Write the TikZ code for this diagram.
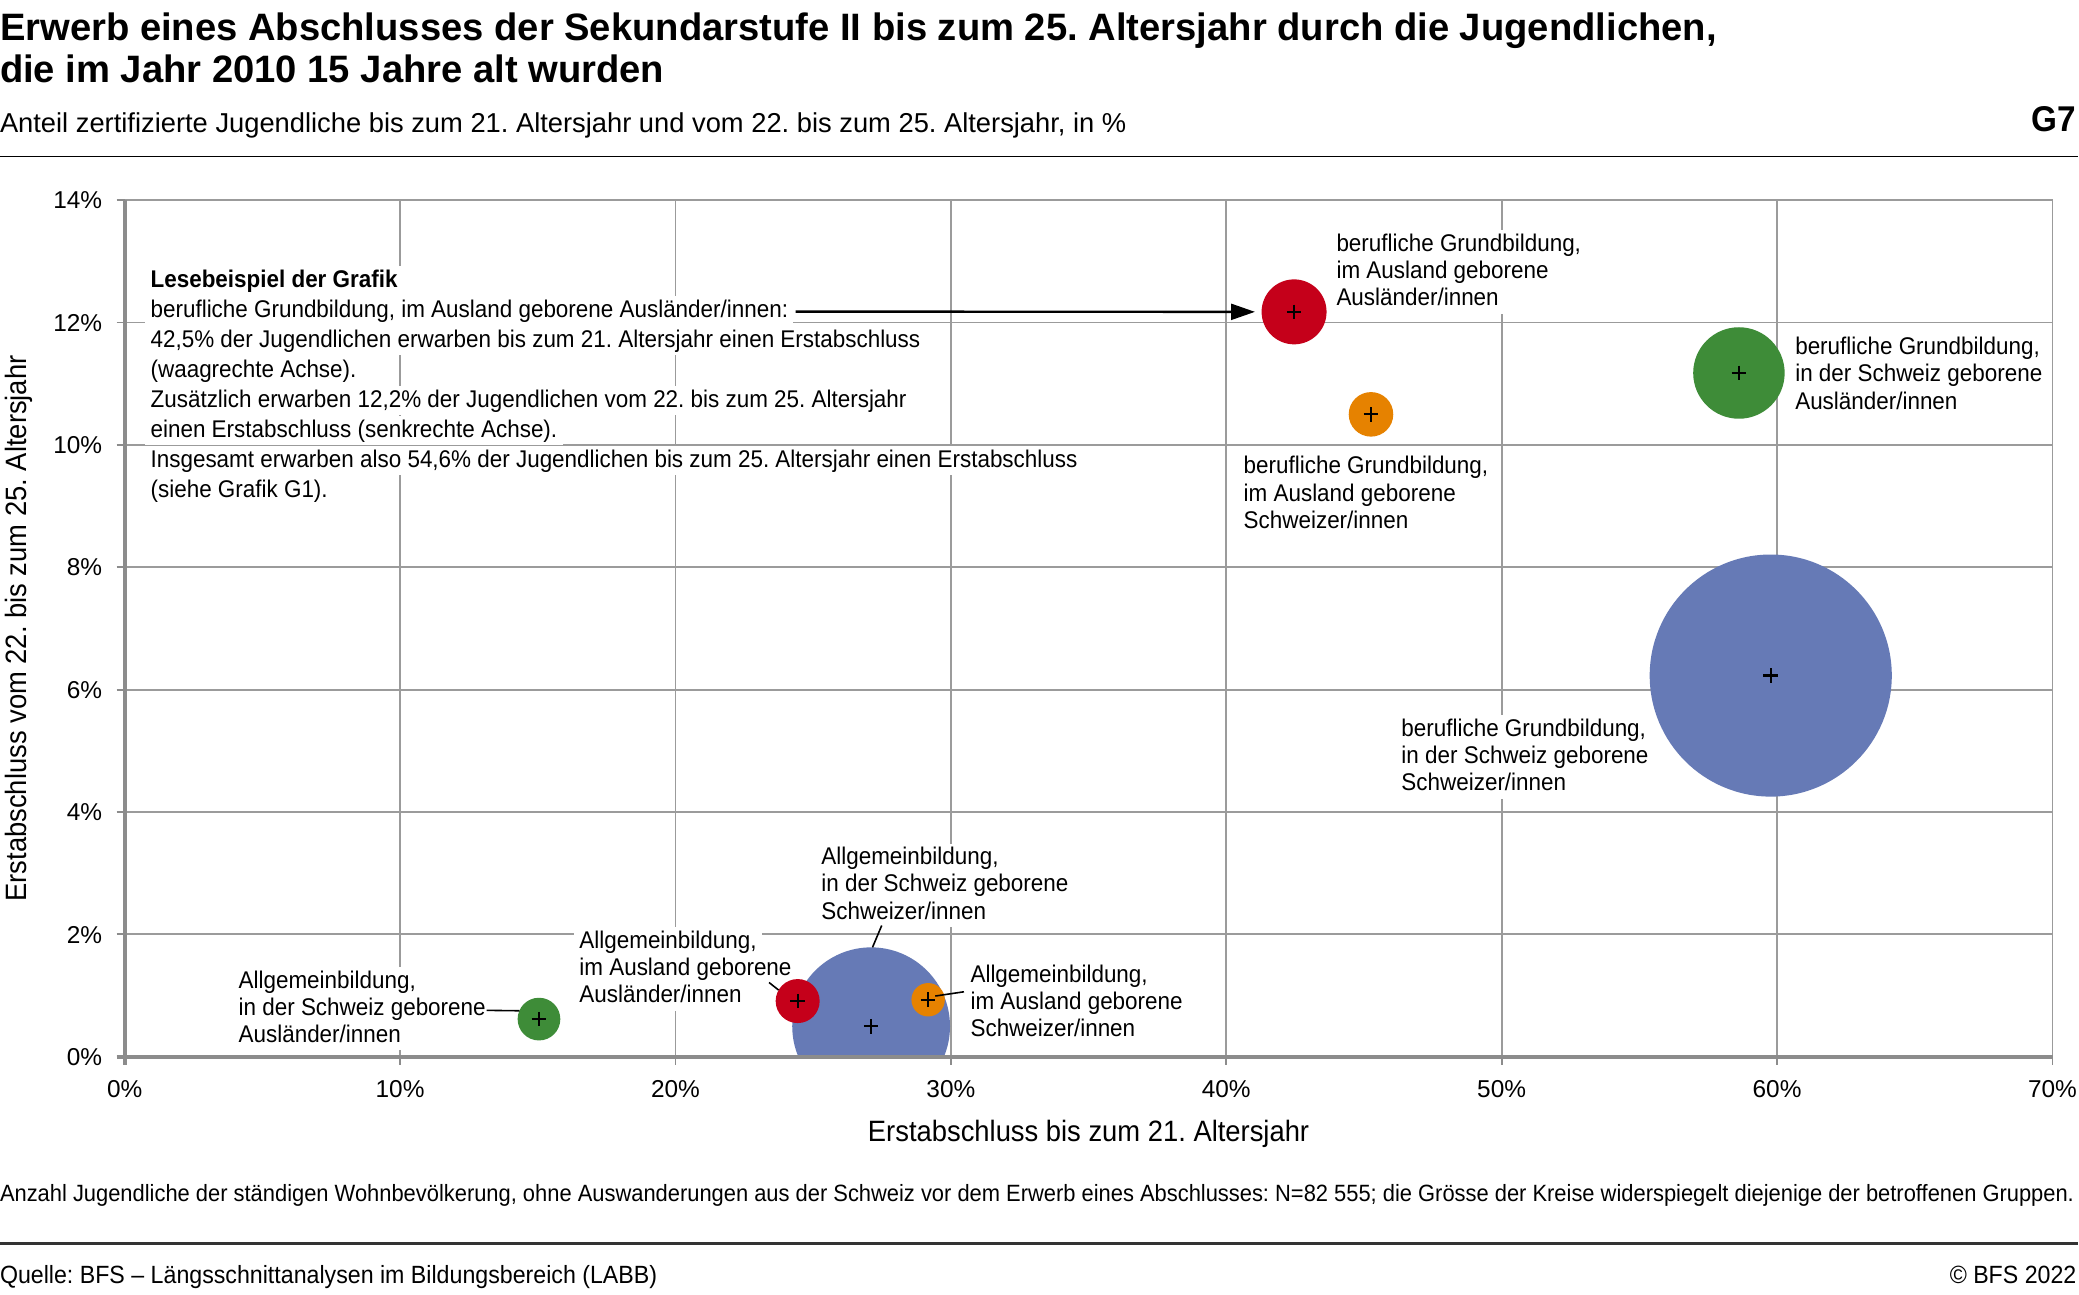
\documentclass[tikz,border=0pt]{standalone}
\usepackage{fontspec}
\setmainfont{Liberation Sans}[FakeStretch=0.93]
\newfontfamily\plainfont{Liberation Sans}
\usetikzlibrary{arrows.meta}

\definecolor{bfsred}{RGB}{197,0,26}
\definecolor{bfsorange}{RGB}{230,130,0}
\definecolor{bfsgreen}{RGB}{62,140,56}
\definecolor{bfsblue}{RGB}{102,122,182}
\definecolor{gridgray}{RGB}{155,155,155}
\definecolor{axisgray}{RGB}{140,140,140}

% white band behind one line of a label
\newcommand{\wl}[1]{\setbox0=\hbox{#1}\rlap{\kern-2pt\smash{\color{white}\rule[-3pt]{\dimexpr\wd0+4pt\relax}{11pt}}}\box0}

\begin{document}
\frenchspacing
\begin{tikzpicture}[
            x=0.5pt, y=-0.5pt,
            every node/.style={inner sep=0pt, outer sep=0pt},
            grid/.style={draw=gridgray, line width=0.7pt},
            axis/.style={draw=axisgray, line width=1.5pt},
            bubble/.style={circle, draw=none},
            lbl/.style={align=left, anchor=north west, font=\fontsize{9.1}{10.25}\selectfont},
            tick/.style={font=\plainfont\fontsize{9.2}{11}\selectfont},
            lead/.style={draw=black, line width=0.6pt},
            plus/.style={draw=black, line width=0.8pt}
        ]
        \useasboundingbox[fill=white] (0,0) rectangle (1568,976);

        % header
        \node[anchor=north west, align=left, font=\plainfont\bfseries\fontsize{14.4}{16}\selectfont] (title) at (0,9.5)
            {Erwerb eines Abschlusses der Sekundarstufe II bis zum 25. Altersjahr durch die Jugendlichen,\\die im Jahr 2010 15 Jahre alt wurden};
        \node[anchor=base west, font=\plainfont\fontsize{10.3}{12}\selectfont] (subtitle) at (0,100)
            {Anteil zertifizierte Jugendliche bis zum 21. Altersjahr und vom 22. bis zum 25. Altersjahr, in \%};
        \node[anchor=base east, font=\bfseries\fontsize{13.5}{16}\selectfont] (gnum) at (1566,99) {G7};
        \draw[line width=0.7pt] (0,118) -- (1567,118);

        % grid
        \foreach \i in {1,...,7}
            \draw[grid] ({94+207.71*\i},151) -- ({94+207.71*\i},797);
        \foreach \j in {1,...,7}
            \draw[grid] (94,{797-92.29*\j}) -- (1548,{797-92.29*\j});

        % reading example
        \node[lbl, font=\fontsize{9.1}{11.3}\selectfont] (example) at (113.6,203.7)
            {\wl{\textbf{Lesebeispiel der Grafik}}\\
             \wl{berufliche Grundbildung, im Ausland geborene Ausländer/innen:}\\
             \wl{42,5\% der Jugendlichen erwarben bis zum 21. Altersjahr einen Erstabschluss}\\
             \wl{(waagrechte Achse).}\\
             \wl{Zusätzlich erwarben 12,2\% der Jugendlichen vom 22. bis zum 25. Altersjahr}\\
             \wl{einen Erstabschluss (senkrechte Achse).}\\
             \wl{Insgesamt erwarben also 54,6\% der Jugendlichen bis zum 25. Altersjahr einen Erstabschluss}\\
             \wl{(siehe Grafik G1).}};

        % labels
        \node[lbl] (lBAA) at (1008,176.5) {\wl{berufliche Grundbildung,}\\\wl{im Ausland geborene}\\\wl{Ausländer/innen}};
        \node[lbl] (lBAS) at (938,344.2) {\wl{berufliche Grundbildung,}\\\wl{im Ausland geborene}\\\wl{Schweizer/innen}};
        \node[lbl] (lBSA) at (1354,254.4) {\wl{berufliche Grundbildung,}\\\wl{in der Schweiz geborene}\\\wl{Ausländer/innen}};
        \node[lbl] (lBSS) at (1057,542.3) {\wl{berufliche Grundbildung,}\\\wl{in der Schweiz geborene}\\\wl{Schweizer/innen}};
        \node[lbl] (lASS) at (619.5,639) {\wl{Allgemeinbildung,}\\\wl{in der Schweiz geborene}\\\wl{Schweizer/innen}};
        \node[lbl] (lAAA) at (437,702) {\wl{Allgemeinbildung,}\\\wl{im Ausland geborene}\\\wl{Ausländer/innen}};
        \node[lbl] (lAAS) at (732,727.6) {\wl{Allgemeinbildung,}\\\wl{im Ausland geborene}\\\wl{Schweizer/innen}};
        \node[lbl] (lASA) at (180,732) {\wl{Allgemeinbildung,}\\\wl{in der Schweiz geborene}\\\wl{Ausländer/innen}};

        % bubbles
        \begin{scope}
            \clip (94,151) rectangle (1548,797);
            \node[bubble, fill=bfsred, minimum size=24.5pt] (bBAA) at (976,235.2) {};
            \node[bubble, fill=bfsorange, minimum size=16.8pt] (bBAS) at (1034,312.5) {};
            \node[bubble, fill=bfsgreen, minimum size=34.5pt] (bBSA) at (1311.5,281.3) {};
            \node[bubble, fill=bfsblue, minimum size=91.3pt] (bBSS) at (1335.5,509.5) {};
            \node[bubble, fill=bfsblue, minimum size=59.5pt] (bASS) at (657,774) {};
            \node[bubble, fill=bfsred, minimum size=16.6pt] (bAAA) at (601.6,755) {};
            \node[bubble, fill=bfsorange, minimum size=12.6pt] (bAAS) at (700,754) {};
            \node[bubble, fill=bfsgreen, minimum size=16.1pt] (bASA) at (406.5,768.6) {};
        \end{scope}
        \foreach \b in {bBAA,bBAS,bBSA,bBSS,bASS,bAAA,bAAS,bASA}
            \draw[plus] (\b.center) +(-5.5,0) -- +(5.5,0) (\b.center) +(0,-5.5) -- +(0,5.5);

        % connectors
        \coordinate (pEx) at (600,235);
        \coordinate (pASS) at (665,698);
        \coordinate (pAAA) at (580,741);
        \coordinate (pAAS) at (727,748);
        \coordinate (pASA) at (367,762);
        \draw[lead, line width=0.9pt, -{Triangle[length=9pt,width=6pt]}, shorten >=2.5pt] (pEx) -- (bBAA.west);
        \draw[lead] (pASS) -- (bASS.89);
        \draw[lead] (pAAA) -- (bAAA.150);
        \draw[lead] ([xshift=2.7pt,yshift=1.4pt]bAAS.center) -- (pAAS);
        \draw[lead] (pASA) -- (bASA.157);

        % axes
        \draw[axis] (94,151) -- (94,803);
        \draw[axis] (88,797) -- (1548,797);
        \foreach \j [evaluate=\j as \v using int(2*\j)] in {0,...,7} {
            \draw[axis, line width=0.7pt] (88,{797-92.29*\j}) -- (94,{797-92.29*\j});
            \node[tick, anchor=base east] (yt\j) at (77,{797-92.29*\j+6.5}) {\v\%};
        }
        \foreach \i [evaluate=\i as \v using int(10*\i)] in {0,...,7} {
            \draw[axis, line width=0.7pt] ({94+207.71*\i},797) -- ({94+207.71*\i},803);
            \node[tick, anchor=base] (xt\i) at ({94+207.71*\i},827.5) {\v\%};
        }
        \node[anchor=base, font=\fontsize{11.1}{13}\selectfont] (xtitle) at (821,861) {Erstabschluss bis zum 21. Altersjahr};
        \node[anchor=base, rotate=90, font=\fontsize{11.1}{13}\selectfont] (ytitle) at (20,474) {Erstabschluss vom 22. bis zum 25. Altersjahr};

        % footer
        \node[anchor=base west, font=\fontsize{8.88}{11}\selectfont] (note) at (0,906)
            {Anzahl Jugendliche der ständigen Wohnbevölkerung, ohne Auswanderungen aus der Schweiz vor dem Erwerb eines Abschlusses: N=82 555; die Grösse der Kreise widerspiegelt diejenige der betroffenen Gruppen.};
        \draw[line width=1.2pt, draw=black!80] (0,938) -- (1567,938);
        \node[anchor=base west, font=\fontsize{9.4}{11}\selectfont] (source) at (0,968) {Quelle: BFS -- Längsschnittanalysen im Bildungsbereich (LABB)};
        \node[anchor=base east, font=\fontsize{9.4}{11}\selectfont] (copy) at (1566,968) {© BFS 2022};

        \end{tikzpicture}
\end{document}
